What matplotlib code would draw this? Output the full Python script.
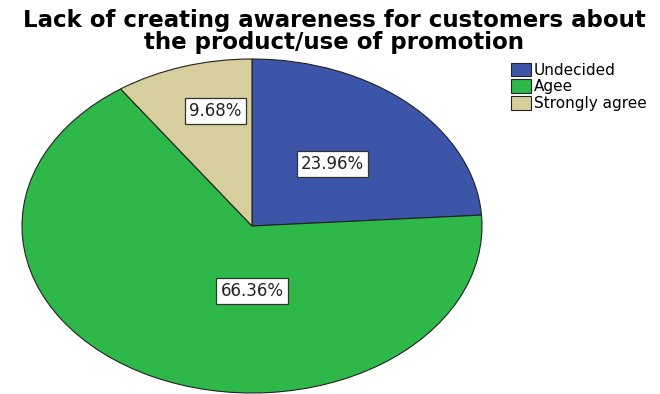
import matplotlib.pyplot as plt
from matplotlib.patches import Patch

plt.rcParams['font.family'] = ['DejaVu Sans']

# Response shares for the promotion-awareness question
categories = ['Undecided', 'Agee', 'Strongly agree']
shares = [23.96, 66.36, 9.68]
colors = ['#3C55A8', '#2EB84A', '#D6CE9C']

# label centres in axes units (pie is drawn in a -1..1 box)
label_pos = [(0.35, 0.37), (0.0, -0.39), (-0.16, 0.69)]

fig = plt.figure(figsize=(6.6, 3.94), dpi=100)
ax = fig.add_axes([22 / 660, 1 / 394, 460 / 660, 334 / 394])

wedges, texts, autotexts = ax.pie(
    shares, colors=colors, startangle=90, counterclock=False,
    autopct='%.2f%%', radius=1.0,
    wedgeprops=dict(edgecolor='#222222', linewidth=0.8),
    textprops=dict(fontsize=12, color='#222222'))

for t, (x, y) in zip(autotexts, label_pos):
    t.set_position((x, y))
    t.set_bbox(dict(boxstyle='square,pad=0.25', facecolor='white',
                    edgecolor='#333333', linewidth=0.9))

ax.set_aspect('auto')
ax.set_xlim(-1, 1)
ax.set_ylim(-1, 1)
ax.axis('off')

fig.text(0.506, 0.978, 'Lack of creating awareness for customers about\nthe product/use of promotion',
         ha='center', va='top', fontsize=16.5, fontweight='bold', linespacing=0.98)

handles = [Patch(facecolor=c, edgecolor='#222222', linewidth=0.8) for c in colors]
fig.legend(handles, categories, loc='upper left', bbox_to_anchor=(500 / 660, 1 - 52 / 394),
           frameon=False, fontsize=11, handlelength=1.3, handleheight=1.0,
           handletextpad=0.2, labelspacing=0.1, borderpad=0.2)

fig.savefig('out.png', dpi=100)
